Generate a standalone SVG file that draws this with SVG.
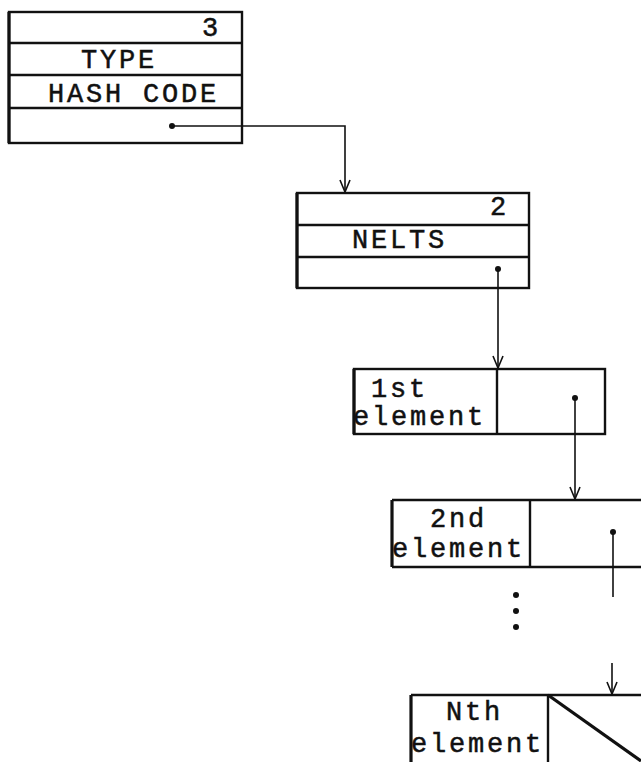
<svg xmlns="http://www.w3.org/2000/svg" width="641" height="762" viewBox="0 0 641 762">
<style>
.box{fill:none;stroke:#111;stroke-width:2.4}
.edge{stroke:#111;stroke-width:3.2}
.conn{fill:none;stroke:#111;stroke-width:1.6}
.t{font-family:"Liberation Mono","DejaVu Sans Mono",monospace;font-size:27px;fill:#111;stroke:#111;stroke-width:0.5;letter-spacing:2.8px}
.dot{fill:#111}
</style>
<defs>
<marker id="arr" markerWidth="16" markerHeight="14" viewBox="-14 -7 16 14" refX="0" refY="0" orient="auto" markerUnits="userSpaceOnUse">
<path d="M-12,-5 L0,0 L-12,5" fill="none" stroke="#111" stroke-width="1.6"/>
</marker>
</defs>
<rect width="641" height="762" fill="#fff"/>
<g id="node-header">
<rect class="box" x="9" y="12" width="233" height="131"/>
<line class="edge" x1="9" y1="12" x2="9" y2="143"/>
<line class="box" x1="9" y1="43" x2="242" y2="43"/>
<line class="box" x1="9" y1="75" x2="242" y2="75"/>
<line class="box" x1="9" y1="108" x2="242" y2="108"/>
<text class="t" x="202" y="36">3</text>
<text class="t" x="81" y="68">TYPE</text>
<text class="t" x="48" y="102">HASH CODE</text>
<circle class="dot" cx="172" cy="126" r="3"/>
</g>
<g id="node-vector">
<rect class="box" x="297" y="193" width="232" height="95"/>
<line class="edge" x1="297" y1="193" x2="297" y2="288"/>
<line class="box" x1="297" y1="225" x2="529" y2="225"/>
<line class="box" x1="297" y1="257" x2="529" y2="257"/>
<text class="t" x="490" y="215">2</text>
<text class="t" x="352" y="248">NELTS</text>
<circle class="dot" cx="498" cy="269" r="3"/>
</g>
<g id="node-elt1">
<rect class="box" x="354" y="369" width="251" height="65"/>
<line class="edge" x1="354" y1="369" x2="354" y2="434"/>
<line class="box" x1="497" y1="369" x2="497" y2="434"/>
<text class="t" x="371" y="397">1st</text>
<text class="t" x="353" y="425">element</text>
<circle class="dot" cx="575" cy="398" r="3"/>
</g>
<g id="node-elt2">
<line class="box" x1="392" y1="500" x2="641" y2="500"/>
<line class="box" x1="392" y1="567" x2="641" y2="567"/>
<line class="edge" x1="392" y1="500" x2="392" y2="567"/>
<line class="box" x1="530" y1="500" x2="530" y2="567"/>
<text class="t" x="430" y="527">2nd</text>
<text class="t" x="392" y="557">element</text>
<circle class="dot" cx="613" cy="532" r="3"/>
</g>
<g id="ellipsis">
<circle class="dot" cx="516" cy="595" r="3"/>
<circle class="dot" cx="516" cy="611" r="3"/>
<circle class="dot" cx="516" cy="627" r="3"/>
</g>
<g id="node-eltN">
<line class="box" x1="411" y1="695" x2="641" y2="695"/>
<line class="edge" x1="411" y1="695" x2="411" y2="762"/>
<line class="box" x1="548" y1="695" x2="548" y2="762"/>
<line class="edge" x1="548" y1="695" x2="641" y2="761"/>
<text class="t" x="446" y="720">Nth</text>
<text class="t" x="411" y="752">element</text>
</g>
<g id="connectors">
<path class="conn" d="M172,126 H345 V192" marker-end="url(#arr)"/>
<path class="conn" d="M498,269 V368" marker-end="url(#arr)"/>
<path class="conn" d="M575,398 V499" marker-end="url(#arr)"/>
<path class="conn" d="M613,532 V597"/>
<path class="conn" d="M612,663 V694" marker-end="url(#arr)"/>
</g>
</svg>
